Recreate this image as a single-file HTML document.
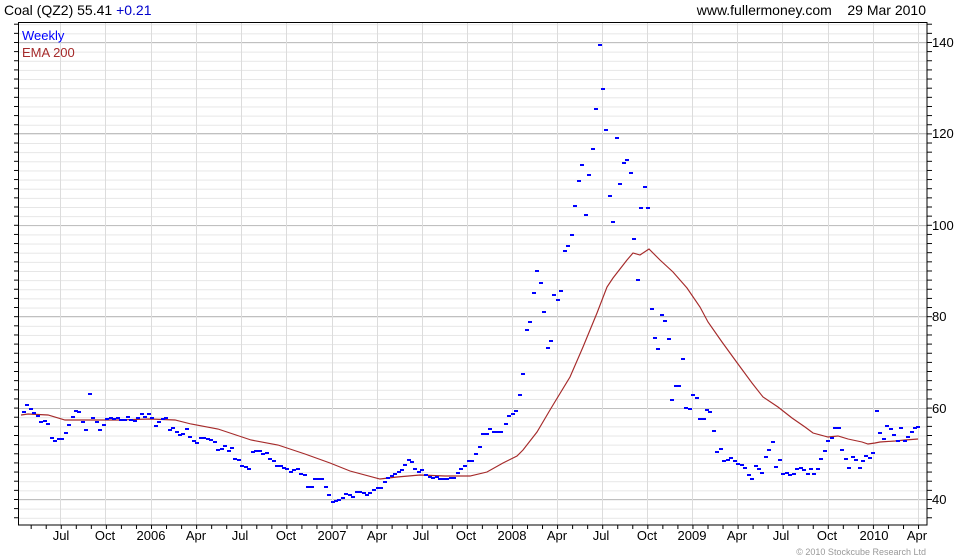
<!DOCTYPE html>
<html><head><meta charset="utf-8"><style>
html,body{margin:0;padding:0;background:#fff;}
svg{display:block;font-family:"Liberation Sans",sans-serif;}
</style></head><body>
<svg width="980" height="560" viewBox="0 0 980 560" xmlns="http://www.w3.org/2000/svg">
<defs>
<pattern id="hg" patternUnits="userSpaceOnUse" x="0" y="499.5" width="20" height="9.14"><line x1="0" y1="0.5" x2="20" y2="0.5" stroke="#e6e6e6" stroke-width="1"/></pattern>
<pattern id="rt" patternUnits="userSpaceOnUse" x="0" y="499" width="20" height="9.14"><line x1="0" y1="0.5" x2="20" y2="0.5" stroke="#000" stroke-width="1"/></pattern>
<pattern id="bt" patternUnits="userSpaceOnUse" x="151" y="0" width="15.04" height="20"><line x1="0.5" y1="0" x2="0.5" y2="20" stroke="#000" stroke-width="1"/></pattern>
</defs>
<rect x="0" y="0" width="980" height="560" fill="#fff"/>
<rect x="18" y="22" width="909" height="503" fill="url(#hg)"/>
<g stroke="#c0c0c0" stroke-width="1">
<line x1="18" y1="499.5" x2="927" y2="499.5"/><line x1="18" y1="408.5" x2="927" y2="408.5"/><line x1="18" y1="316.5" x2="927" y2="316.5"/><line x1="18" y1="225.5" x2="927" y2="225.5"/><line x1="18" y1="133.5" x2="927" y2="133.5"/><line x1="18" y1="42.5" x2="927" y2="42.5"/>
</g>
<g stroke="#dcdcdc" stroke-width="1">
<line x1="60.5" y1="22" x2="60.5" y2="525"/><line x1="105.5" y1="22" x2="105.5" y2="525"/><line x1="151.5" y1="22" x2="151.5" y2="525"/><line x1="196.5" y1="22" x2="196.5" y2="525"/><line x1="241.5" y1="22" x2="241.5" y2="525"/><line x1="286.5" y1="22" x2="286.5" y2="525"/><line x1="332.5" y1="22" x2="332.5" y2="525"/><line x1="377.5" y1="22" x2="377.5" y2="525"/><line x1="422.5" y1="22" x2="422.5" y2="525"/><line x1="467.5" y1="22" x2="467.5" y2="525"/><line x1="512.5" y1="22" x2="512.5" y2="525"/><line x1="557.5" y1="22" x2="557.5" y2="525"/><line x1="602.5" y1="22" x2="602.5" y2="525"/><line x1="647.5" y1="22" x2="647.5" y2="525"/><line x1="692.5" y1="22" x2="692.5" y2="525"/><line x1="737.5" y1="22" x2="737.5" y2="525"/><line x1="782.5" y1="22" x2="782.5" y2="525"/><line x1="828.5" y1="22" x2="828.5" y2="525"/><line x1="873.5" y1="22" x2="873.5" y2="525"/><line x1="918.5" y1="22" x2="918.5" y2="525"/>
</g>
<rect x="927" y="22" width="5" height="503" fill="url(#rt)"/>
<rect x="14" y="22" width="4" height="503" fill="url(#rt)"/>
<rect x="18" y="525" width="909" height="4" fill="url(#bt)"/>
<rect x="18.5" y="22.5" width="908.5" height="502.5" fill="none" stroke="#000" stroke-width="1"/>
<polyline fill="none" stroke="#a52a2a" stroke-width="1.15" points="21,415 28,414 48,415 65,420 91,420 118,420 150,419 175,420 191,424 218,429 251,440 278,445 305,454 330,463 350,471 380,479 397,477 420,475 445,476 470,476 487,472 503,463 517,456 523,450 537,432 550,410 553,405 570,377 583,347 597,313 607,287 613,278 627,260 633,253 640,255 649,249 660,260 673,272 687,288 700,307 708,322 722,342 738,364 752,383 763,397 778,407 792,418 805,427 813,433 828,437 838,436 848,439 862,442 868,444 875,443 880,442 895,441 905,440 918,439"/>
<path id="dots" fill="#0000ff" d=""/>
<text x="4" y="15" font-size="14" fill="#000">Coal (QZ2) 55.41 <tspan fill="#0000cc">+0.21</tspan></text>
<text x="926" y="15" font-size="14" fill="#000" text-anchor="end">www.fullermoney.com &#160;&#160;&#160;29 Mar 2010</text>
<text x="22" y="40" font-size="13" fill="#0000ff">Weekly</text>
<text x="22" y="57" font-size="13" fill="#a52a2a">EMA 200</text>
<g font-size="13" fill="#000">
<text x="932" y="504">40</text><text x="932" y="413">60</text><text x="932" y="321">80</text><text x="932" y="230">100</text><text x="932" y="138">120</text><text x="932" y="47">140</text>
</g>
<g font-size="13" fill="#000" text-anchor="middle">
<text x="61" y="540">Jul</text><text x="105" y="540">Oct</text><text x="151" y="540">2006</text><text x="196" y="540">Apr</text><text x="240" y="540">Jul</text><text x="286" y="540">Oct</text><text x="332" y="540">2007</text><text x="377" y="540">Apr</text><text x="421" y="540">Jul</text><text x="466" y="540">Oct</text><text x="512" y="540">2008</text><text x="557" y="540">Apr</text><text x="601" y="540">Jul</text><text x="647" y="540">Oct</text><text x="692" y="540">2009</text><text x="737" y="540">Apr</text><text x="781" y="540">Jul</text><text x="827" y="540">Oct</text><text x="874" y="540">2010</text><text x="917" y="540">Apr</text>
</g>
<text x="926" y="555" font-size="9" fill="#999" text-anchor="end">© 2010 Stockcube Research Ltd</text>
</svg>
<script>
var p="24,412 27,405 31,409 34,413 38,416 41,422 45,421 48,424 52,438 55,441 59,439 62,439 66,433 69,425 73,417 76,411 79,412 83,422 86,430 90,394 93,418 97,422 100,430 104,425 107,419 111,418 114,419 118,418 121,420 125,420 128,417 131,420 135,421 138,418 142,414 145,417 149,414 152,418 156,426 159,422 163,419 166,418 170,430 173,428 177,432 180,435 183,434 187,429 190,437 194,441 197,443 201,438 204,438 208,439 211,440 215,442 218,450 222,449 225,446 229,451 232,448 235,459 239,460 242,466 246,467 249,469 253,452 256,451 260,451 263,454 267,453 270,459 274,461 277,466 281,466 284,468 287,469 291,472 294,470 298,469 301,474 305,475 308,487 312,487 315,479 319,479 322,479 326,487 329,495 333,502 336,501 339,500 343,498 346,494 350,495 353,497 357,492 360,492 364,493 367,495 370,493 374,490 378,488 381,488 385,482 388,478 392,476 395,474 399,472 402,470 405,465 409,460 412,462 415,469 419,472 422,470 426,475 430,477 433,478 437,477 440,479 443,479 447,479 451,478 454,478 458,473 461,469 465,466 469,461 472,461 476,454 480,447 483,434 487,434 490,429 494,432 497,432 501,432 506,424 509,416 513,414 516,411 520,395 523,374 527,330 530,322 534,293 537,271 541,283 544,312 548,348 551,341 554,295 558,300 561,291 565,251 568,246 572,235 575,206 579,181 582,165 586,215 589,175 593,149 596,109 600,45 603,89 606,130 610,196 613,222 617,138 620,184 624,163 627,160 631,173 634,239 638,280 641,208 645,187 648,208 652,309 655,338 658,349 662,315 665,321 669,339 672,400 676,386 679,386 683,359 686,408 690,409 693,395 697,398 700,419 704,419 707,410 710,412 714,431 717,452 721,449 724,461 728,460 731,458 735,461 738,464 742,465 745,468 749,475 752,479 756,466 759,469 762,473 766,457 769,450 773,442 776,467 780,460 783,474 787,473 790,475 794,474 797,469 801,468 804,470 808,474 811,469 814,474 818,469 821,459 825,451 828,441 832,438 835,428 839,428 842,450 846,459 849,468 853,457 856,460 860,468 863,461 866,456 870,458 873,453 877,411 880,433 884,439 887,426 891,429 894,435 898,441 901,428 905,441 908,437 912,432 915,428 918,427".split(" ");
var d="";p.forEach(function(s){var a=s.split(",");d+="M"+(a[0]-2)+","+(a[1]-1)+"h4v2h-4z";});
document.getElementById("dots").setAttribute("d",d);
</script>
</body></html>
